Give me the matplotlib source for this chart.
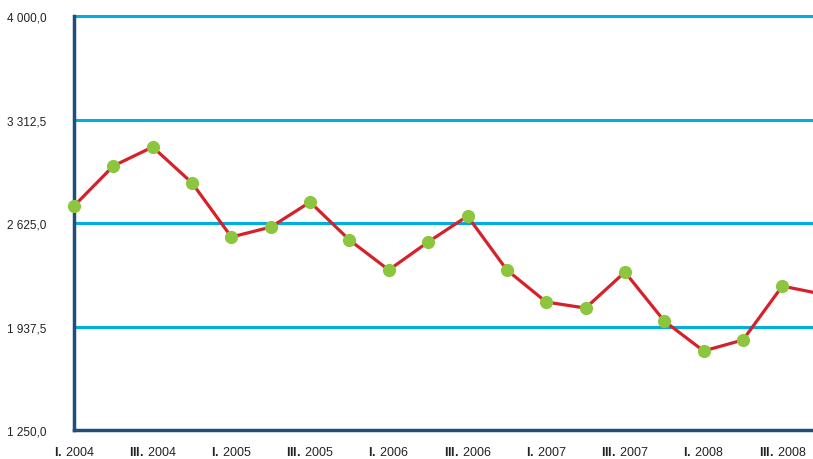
import matplotlib
matplotlib.use("Agg")
import matplotlib.pyplot as plt
from matplotlib import font_manager

quarters = ["I. 2004", "II. 2004", "III. 2004", "IV. 2004",
            "I. 2005", "II. 2005", "III. 2005", "IV. 2005",
            "I. 2006", "II. 2006", "III. 2006", "IV. 2006",
            "I. 2007", "II. 2007", "III. 2007", "IV. 2007",
            "I. 2008", "II. 2008", "III. 2008", "IV. 2008"]
values = [2738, 3004, 3130, 2891, 2532, 2598, 2764, 2512, 2313, 2499,
          2671, 2313, 2100, 2060, 2299, 1974, 1775, 1848, 2206, 2153]
y_ticks = [1250.0, 1937.5, 2625.0, 3312.5, 4000.0]

names = {f.name for f in font_manager.fontManager.ttflist}
fam = "Liberation Sans Narrow" if "Liberation Sans Narrow" in names else "Liberation Sans"
plt.rcParams["font.family"] = [fam, "DejaVu Sans"]
plt.rcParams["mathtext.fontset"] = "custom"
plt.rcParams["mathtext.bf"] = fam + ":bold"
plt.rcParams["mathtext.rm"] = fam

fig = plt.figure(figsize=(8.13, 4.6), dpi=100)
ax = fig.add_axes([74/813, 29/460, 1 - 74/813, 414/460])

x = list(range(len(quarters)))
for yt in y_ticks[1:]:
    ax.axhline(yt, color="#00aedb", lw=2.2, zorder=1, clip_on=False)
ax.plot(x, values, color="#d6202a", lw=2.3, zorder=3, clip_on=False)
ax.plot(x, values, "o", ms=9.5, color="#8cc63f", mec="none", zorder=4, clip_on=False)

ax.set_xlim(0, 18.78)
ax.set_ylim(1250, 4000)

def fmt(v):
    s = f"{v:,.1f}".replace(",", " ").replace(".", ",")
    return s

ax.set_yticks(y_ticks)
ax.set_yticklabels([fmt(v) for v in y_ticks], fontsize=8.5, color="#222222")
ticks = x[::2]
labels = []
for q in quarters[::2]:
    r, yr = q.split(" ")
    labels.append(r"$\mathbf{" + r + r"}\,\mathrm{" + yr + r"}$")
ax.set_xticks(ticks)
ax.set_xticklabels(labels, fontsize=9, color="#222222")
ax.tick_params(axis="both", length=0)
ax.tick_params(axis="y", pad=20)
ax.tick_params(axis="x", pad=11)

for s in ["top", "right"]:
    ax.spines[s].set_visible(False)
for s in ["left", "bottom"]:
    ax.spines[s].set_color("#1f4e7a")
    ax.spines[s].set_linewidth(2.5)
    ax.spines[s].set_zorder(2)

fig.savefig("out.png", dpi=100)
